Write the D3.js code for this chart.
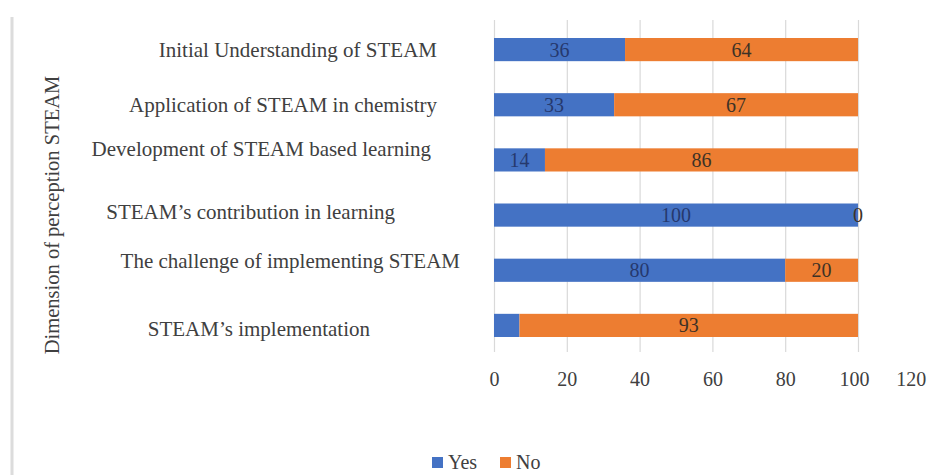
<!DOCTYPE html>
<html>
<head>
<meta charset="utf-8">
<script src="https://cdn.jsdelivr.net/npm/d3@7"></script>
<style>
  body { margin: 0; background: #fff; }
  svg { display: block; font-family: "Liberation Serif", "Times New Roman", serif; }
</style>
</head>
<body>
<svg></svg>
<script>
// chart data
let categories = [
  'Initial Understanding of STEAM',
  'Application of STEAM in chemistry',
  'Development of STEAM based learning',
  'STEAM\u2019s contribution in learning',
  'The challenge of implementing STEAM',
  'STEAM\u2019s implementation'
]
let yesValues = [36, 33, 14, 100, 80, 7]
let noValues = [64, 67, 86, 0, 20, 93]
let seriesNames = ['Yes', 'No']
let xTicks = [0, 20, 40, 60, 80, 100, 120]

// the category labels in the original are hand placed text boxes
let labelNudge = [[0, 0], [0, 0], [-6, -11], [-42, -3], [23, -9], [-67, 4]]

let width = 927
let height = 475
let colors = ['#4472C4', '#ED7D31']

let svg = d3.select('svg')
    .attr('width', width)
    .attr('height', height)

// faint frame line on the left
svg.append('line')
    .attr('x1', 12).attr('x2', 12)
    .attr('y1', 17).attr('y2', height)
    .attr('stroke', '#dcdcdc')
    .attr('stroke-width', 3)

let gridTop = 20
let gridBottom = 352

let xScale = d3.scaleLinear()
    .domain([0, 120])
    .range([494, 930.8])

let yScale = d3.scaleBand()
    .domain(categories)
    .range([22, 353])
    .paddingInner(0.58)
    .paddingOuter(0.29)

// x axis with gridlines
let xAxis = d3.axisBottom(xScale)
    .tickValues(xTicks)
    .tickSize(-(gridBottom - gridTop))
    .tickPadding(20)

let axisG = svg.append('g')
    .attr('transform', 'translate(0,' + gridBottom + ')')
    .call(xAxis)

axisG.select('.domain').remove()
axisG.selectAll('line').attr('stroke', '#d9d9d9').attr('stroke-width', 1.2)
axisG.selectAll('text')
    .attr('font-size', 20)
    .attr('fill', '#404040')
    .attr('font-family', '"Liberation Serif", serif')
    // the last tick sits at the picture edge; pull its label inside
    .attr('dx', (d) => d === 120 ? -20 : (d === 100 ? -4 : 0))

// stacked bars
let rows = categories.map((c, i) => ({ cat: c, vals: [yesValues[i], noValues[i]] }))

rows.forEach((row) => {
    let start = 0
    row.vals.forEach((v, s) => {
        svg.append('rect')
            .attr('x', xScale(start))
            .attr('y', yScale(row.cat))
            .attr('width', xScale(start + v) - xScale(start))
            .attr('height', yScale.bandwidth())
            .attr('fill', colors[s])

        if (v >= 10 || v === 0) {
            svg.append('text')
                .attr('x', xScale(start + v / 2))
                .attr('y', yScale(row.cat) + yScale.bandwidth() / 2)
                .attr('dy', '0.35em')
                .attr('text-anchor', 'middle')
                .attr('font-size', 20)
                .attr('fill', s === 0 ? '#26396e' : '#3d3226')
                .text(v)
        }
        start += v
    })
})

// category labels
svg.selectAll('.cat')
    .data(categories)
    .enter()
    .append('text')
    .attr('class', 'cat')
    .attr('x', (d, i) => 437 + labelNudge[i][0])
    .attr('y', (d, i) => yScale(d) + yScale.bandwidth() / 2 + labelNudge[i][1])
    .attr('dy', '0.33em')
    .attr('text-anchor', 'end')
    .attr('font-size', 21)
    .attr('fill', '#404040')
    .text((d) => d)

// y axis title
svg.append('text')
    .attr('transform', 'translate(59,215) rotate(-90)')
    .attr('text-anchor', 'middle')
    .attr('font-size', 20.5)
    .attr('fill', '#404040')
    .text('Dimension of perception STEAM')

// legend
let legendX = [432, 500]
seriesNames.forEach((name, i) => {
    svg.append('rect')
        .attr('x', legendX[i])
        .attr('y', 457)
        .attr('width', 11)
        .attr('height', 11)
        .attr('fill', colors[i])
    svg.append('text')
        .attr('x', legendX[i] + 16)
        .attr('y', 469)
        .attr('font-size', 20)
        .attr('fill', '#404040')
        .text(name)
})
</script>
</body>
</html>
